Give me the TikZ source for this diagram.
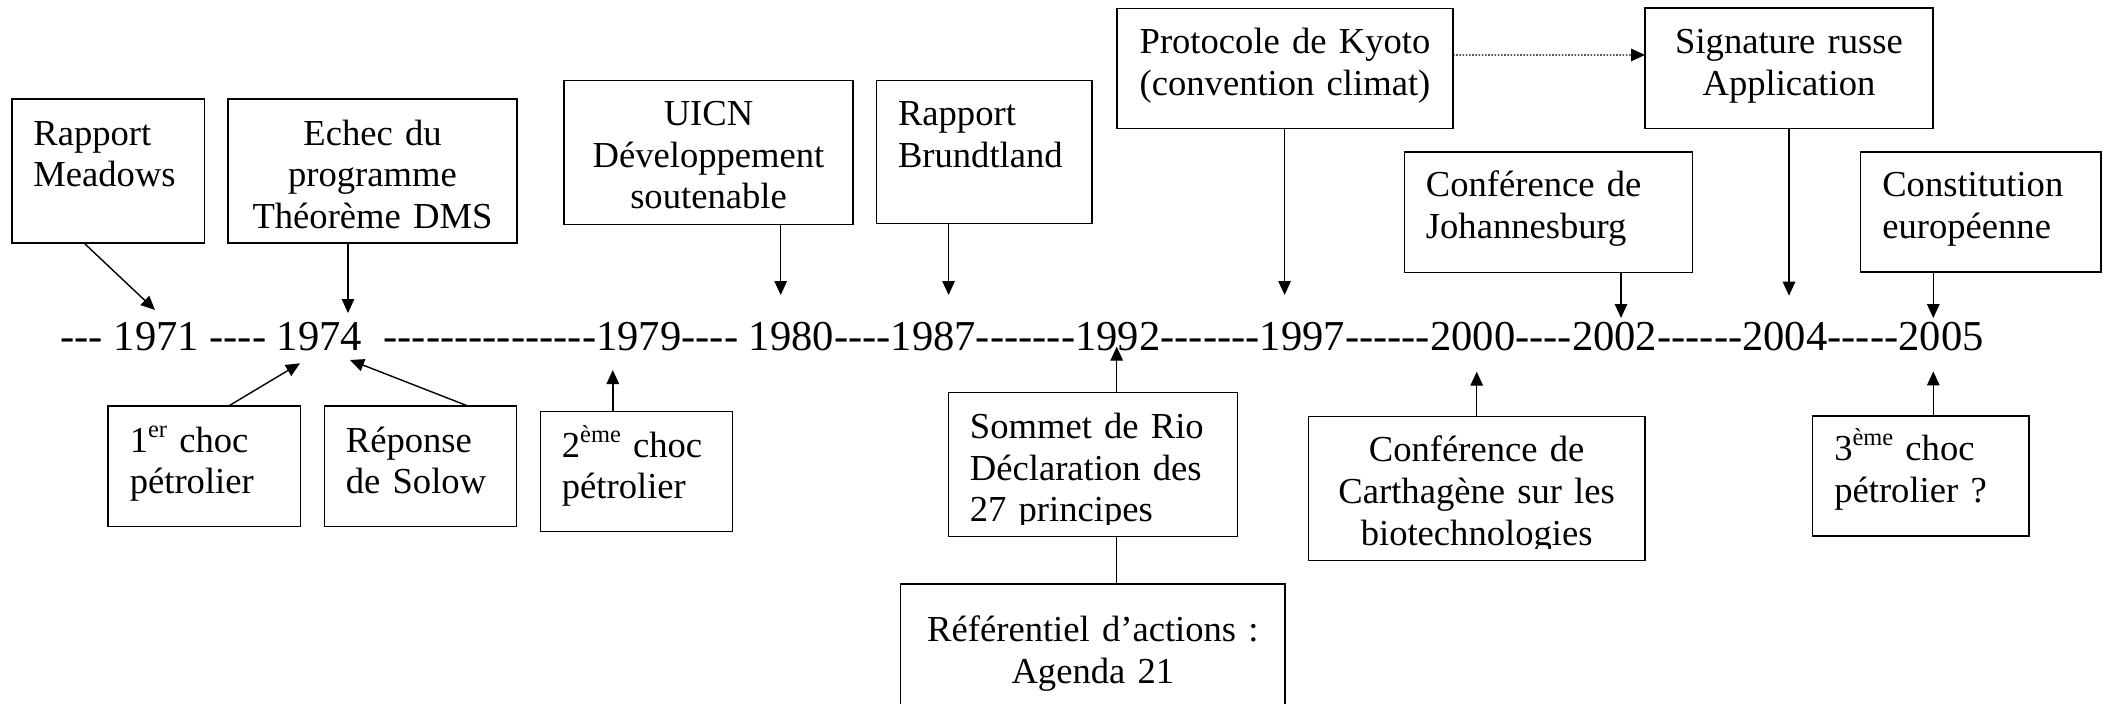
\documentclass[tikz,border=0pt]{standalone}
\usepackage{fontspec}
\setmainfont{Liberation Serif}
\usetikzlibrary{arrows.meta}

% a run of separate hyphens (kerns stop the -- and --- ligatures)
\newcommand\dsh[1]{\ifnum#1>0 -\kern0pt\expandafter\dsh\expandafter{\the\numexpr#1-1\relax}\fi}
% a word space that survives the trailing \unskip of a node
\newcommand\tsp{\ \null}
% small raised ordinal suffix
\newcommand\supx[1]{\raisebox{15pt}{\fontsize{24.4pt}{24.4pt}\selectfont #1}}

\tikzset{
  evbox/.style={draw, line width=1.5pt, inner sep=0pt, outer sep=0pt, anchor=north west},
  evtext/.style={anchor=north west, inner xsep=21.6pt, inner ysep=0pt, outer sep=0pt,
                 font=\fontsize{36.6pt}{41.7pt}\selectfont},
  tl/.style={inner sep=0pt, outer sep=0pt, anchor=base west,
             font=\fontsize{42.6pt}{42.6pt}\selectfont},
  arr/.style={line width=1.4pt, -{Triangle[length=14pt,width=12.5pt]}},
  dotarr/.style={arr, line width=1.2pt, dash pattern=on 1.6pt off 1.6pt}
}

% event box: name, x, y, width, height, alignment, first baseline, text
\newcommand\event[8]{%
  \node[evbox, minimum width=#4pt, minimum height=#5pt] (#1) at (#2,#3) {};
  \pgfmathsetmacro\evinner{#4-43.2}
  \begin{scope}
    \clip ([yshift=-1pt]#1.north west) rectangle ([yshift=12.5pt]#1.south east);
    \node[evtext, text width=\evinner pt, align=#6] (#1-txt) at (#1.north west)
      {\rule{0pt}{#7pt}#8};
  \end{scope}}

\begin{document}
\begin{tikzpicture}[x=1pt, y=-1pt]
\useasboundingbox (0,0) rectangle (2107,704);

% ---- the time line ----
\node[tl] (d0) at (60.5,350) {\dsh{3}\tsp};
\node[tl] (y1971) at (d0.base east) {1971};
\node[tl] (d1) at (y1971.base east) {\ \dsh{4}\tsp};
\node[tl] (y1974) at (d1.base east) {1974};
\node[tl] (d2) at (y1974.base east) {\ \ \dsh{15}};
\node[tl] (y1979) at (d2.base east) {1979};
\node[tl] (d3) at (y1979.base east) {\dsh{4}\tsp};
\node[tl] (y1980) at (d3.base east) {1980};
\node[tl] (d4) at (y1980.base east) {\dsh{4}};
\node[tl] (y1987) at (d4.base east) {1987};
\node[tl] (d5) at (y1987.base east) {\dsh{7}};
\node[tl] (y1992) at (d5.base east) {1992};
\node[tl] (d6) at (y1992.base east) {\dsh{7}};
\node[tl] (y1997) at (d6.base east) {1997};
\node[tl] (d7) at (y1997.base east) {\dsh{6}};
\node[tl] (y2000) at (d7.base east) {2000};
\node[tl] (d8) at (y2000.base east) {\dsh{4}};
\node[tl] (y2002) at (d8.base east) {2002};
\node[tl] (d9) at (y2002.base east) {\dsh{6}};
\node[tl] (y2004) at (d9.base east) {2004};
\node[tl] (d10) at (y2004.base east) {\dsh{5}};
\node[tl] (y2005) at (d10.base east) {2005};

% ---- events above the line ----
\event{meadows}{11.8}{99}{192.8}{144}{left}{46}{Rapport\\Meadows}
\event{echec}{228}{99}{289}{144}{center}{46}{Echec du\\programme\\Théorème DMS}
\event{uicn}{564}{80.5}{289}{144}{center}{45}{UICN\\Développement\\soutenable}
\event{brundtland}{876.4}{80.5}{215.6}{143}{left}{45}{Rapport\\Brundtland}
\event{kyoto}{1117}{8.3}{336}{120}{center}{45}{Protocole de Kyoto\\(convention climat)}
\event{signature}{1645}{8}{288}{120.5}{center}{45.5}{Signature russe\\Application}
\event{johannesburg}{1404.3}{152}{288.4}{120.5}{left}{44.6}{Conférence de\\Johannesburg}
\event{constitution}{1860.7}{152}{240.3}{120}{left}{44.6}{Constitution\\européenne}

% ---- events below the line ----
\event{choc1}{108.2}{406}{192.3}{120.3}{left}{46}{1\supx{er} choc\\pétrolier}
\event{solow}{324.3}{406}{192.2}{120.3}{left}{46}{Réponse\\de Solow}
\event{choc2}{540.3}{411.7}{192}{120}{left}{45.5}{2\supx{ème} choc\\pétrolier}
\event{rio}{948.3}{392.3}{289}{144.4}{left}{46}{Sommet de Rio\\Déclaration des\\27 principes}
\event{agenda}{900.7}{584}{384.3}{122}{center}{57.7}{Référentiel d’actions :\\Agenda 21}
\event{carthagene}{1308.3}{416.7}{336.7}{144}{center}{45}{Conférence de\\Carthagène sur les\\biotechnologies}
\event{choc3}{1812.7}{416}{216.3}{120}{left}{44.7}{3\supx{ème} choc\\pétrolier ?}

% ---- arrow tips on the years ----
\coordinate (t71) at (155,310);
\coordinate (t74a) at (348,313);
\coordinate (t74b) at (300,363.3);
\coordinate (t74c) at (350,360);
\coordinate (t79) at (612.8,370);
\coordinate (t80) at (780.7,295);
\coordinate (t87) at (948.6,295);
\coordinate (t92) at (1116.7,346.7);
\coordinate (t97) at (1284.6,295);
\coordinate (t00) at (1476.7,371.7);
\coordinate (t02) at (1621,318);
\coordinate (t04) at (1789,295.7);
\coordinate (t05a) at (1933.3,318);
\coordinate (t05b) at (1933.3,371.4);

% ---- connectors ----
\draw[arr] ([xshift=72.2pt]meadows.south west) -- (t71);
\draw[arr] (t74a |- echec.south) -- (t74a);
\draw[arr] ([xshift=120.4pt]choc1.north west) -- (t74b);
\draw[arr] ([xshift=143.6pt]solow.north west) -- (t74c);
\draw[arr] (t79 |- choc2.north) -- (t79);
\draw[arr] (t80 |- uicn.south) -- (t80);
\draw[arr] (t87 |- brundtland.south) -- (t87);
\draw[arr] (t92 |- rio.north) -- (t92);
\draw[line width=1.4pt] (t92 |- rio.south) -- (t92 |- agenda.north);
\draw[arr] (t97 |- kyoto.south) -- (t97);
\draw[dotarr] ([yshift=13.3pt]kyoto.east) -- ([yshift=13.3pt]signature.west);
\draw[arr] (t04 |- signature.south) -- (t04);
\draw[arr] (t02 |- johannesburg.south) -- (t02);
\draw[arr] (t05a |- constitution.south) -- (t05a);
\draw[arr] (t00 |- carthagene.north) -- (t00);
\draw[arr] (t05b |- choc3.north) -- (t05b);
\end{tikzpicture}
\end{document}
